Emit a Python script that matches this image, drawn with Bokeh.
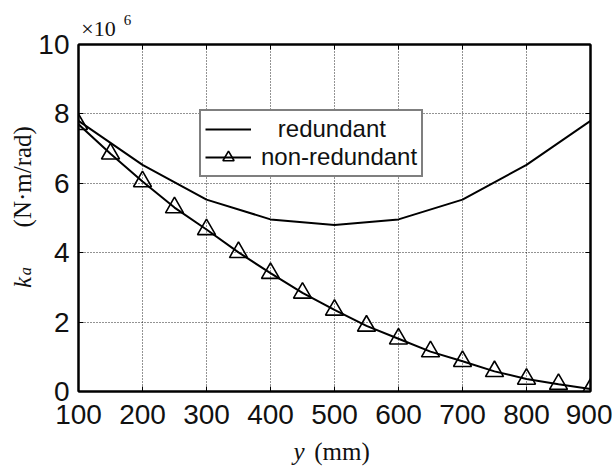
import numpy as np
from bokeh.plotting import figure
from bokeh.models import (Range1d, LinearAxis, FixedTicker, Legend, LegendItem, Label,
                          CustomJSTickFormatter)
from bokeh.embed import file_html
from bokeh.resources import INLINE

# ---- data (values in units of 1e6 N·m/rad) ----
y_redundant = [100, 200, 300, 400, 500, 600, 700, 800, 900]
k_redundant = [7.80, 6.53, 5.53, 4.96, 4.80, 4.96, 5.53, 6.53, 7.80]

y_nonred = [100, 150, 200, 250, 300, 350, 400, 450, 500,
            550, 600, 650, 700, 750, 800, 850, 900]
k_nonred = [7.70, 6.85, 6.05, 5.30, 4.67, 4.01, 3.41, 2.84, 2.35,
            1.89, 1.52, 1.15, 0.87, 0.58, 0.36, 0.21, 0.07]

x_ticks = [100, 200, 300, 400, 500, 600, 700, 800, 900]
y_ticks = [0, 2, 4, 6, 8, 10]

SANS = "Liberation Sans"
SERIF = "Liberation Serif"

# frame geometry (pixels)
W, H = 612, 466
FL, FT, FR, FB = 77, 42, 590, 391
X0, X1, Y0, Y1 = 100, 900, 0, 10


def dx(px):
    return X0 + (px - FL) * (X1 - X0) / (FR - FL)


def dy(py):
    return Y0 + (FB - py) * (Y1 - Y0) / (FB - FT)


p = figure(width=W, height=H, output_backend="svg", toolbar_location=None,
           x_range=Range1d(X0, X1), y_range=Range1d(Y0, Y1),
           min_border_left=FL, min_border_right=W - FR,
           min_border_top=FT, min_border_bottom=H - FB,
           background_fill_color="white", border_fill_color="white")

p.outline_line_color = "black"
p.outline_line_width = 2

for ax in (p.xaxis[0], p.yaxis[0]):
    ax.axis_line_color = "black"
    ax.axis_line_width = 2
    ax.major_tick_in = 5
    ax.major_tick_out = 0
    ax.major_tick_line_color = "black"
    ax.major_tick_line_width = 1
    ax.minor_tick_line_color = None
    ax.major_label_text_font = SANS
    ax.major_label_text_font_size = "28px"
    ax.major_label_text_color = "#111111"
p.xaxis[0].ticker = FixedTicker(ticks=x_ticks)
p.yaxis[0].ticker = FixedTicker(ticks=y_ticks)
p.xaxis[0].major_label_standoff = 13
p.yaxis[0].major_label_standoff = 9

empty = CustomJSTickFormatter(code="return ''")
top = LinearAxis(ticker=FixedTicker(ticks=x_ticks), formatter=empty)
right = LinearAxis(ticker=FixedTicker(ticks=y_ticks), formatter=empty)
for ax in (top, right):
    ax.axis_line_color = "black"
    ax.axis_line_width = 2
    ax.major_tick_in = 5
    ax.major_tick_out = 0
    ax.minor_tick_line_color = None
    ax.major_label_standoff = 0
    ax.major_label_text_font_size = "1px"
p.add_layout(top, "above")
p.add_layout(right, "right")

p.grid.grid_line_color = "black"
p.grid.grid_line_dash = "1 2"
p.grid.grid_line_width = 1
p.grid.grid_line_alpha = 0.85
p.xgrid.ticker = FixedTicker(ticks=x_ticks)
p.ygrid.ticker = FixedTicker(ticks=y_ticks)

r_red = p.line(y_redundant, k_redundant, line_color="black", line_width=2)
r_nl = p.line(y_nonred, k_nonred, line_color="black", line_width=2)
r_nm = p.scatter(y_nonred, k_nonred, marker="triangle", size=18,
                 line_color="black", line_width=1.6, fill_color=None)

legend = Legend(items=[
    LegendItem(label="\u2002\u2009redundant", renderers=[r_red]),
    LegendItem(label="non-redundant", renderers=[r_nl, r_nm]),
], location=(121, 214))
legend.label_text_font = SANS
legend.label_text_font_size = "24px"
legend.label_text_color = "#111111"
legend.label_text_line_height = 1.0
legend.glyph_width = 46
legend.glyph_height = 28
legend.label_standoff = 10
legend.padding = 4
legend.spacing = 0
legend.margin = 0
legend.border_line_color = "black"
legend.border_line_width = 2
legend.background_fill_alpha = 1.0
p.add_layout(legend, "center")


def put_text(side, text, ax_, ay_, size, style="normal", rotated=False):
    """Text placed through the plot's scales, hosted by a side panel so that
    it is not clipped to the frame.
    Horizontal text: centre x = ax_, baseline y = ay_ (image pixels).
    Rotated text: baseline x = ax_, start (lower end) y = ay_."""
    if rotated:
        lab = Label(x=dx(ax_), y=dy(ay_), angle=np.pi / 2, text_align="left")
    else:
        lab = Label(x=dx(ax_), y=dy(ay_), text_align="center")
    lab.text = text
    lab.text_font = SERIF
    lab.text_font_size = size
    lab.text_font_style = style
    lab.text_baseline = "alphabetic"
    lab.text_color = "#111111"
    lab.text_line_height = 1.0
    p.add_layout(lab, side)


# y-axis title: k_a (N·m/rad)
put_text("left", "(N\u00b7m/rad)", 21, 226, "25px", rotated=True)
put_text("above", "k", 21, 287, "25px", "italic", rotated=True)
put_text("above", "a", 24, 274, "16px", "italic", rotated=True)

# x-axis title: y (mm)
put_text("right", "y", 298, 451, "25px", "italic")
put_text("below", "(mm)", 341, 451, "25px")

# exponent ×10^6
put_text("above", "\u00d710", 97, 26, "22px")
put_text("left", "6", 126, 17, "15px")

open("out.html", "w").write(file_html(p, INLINE))
